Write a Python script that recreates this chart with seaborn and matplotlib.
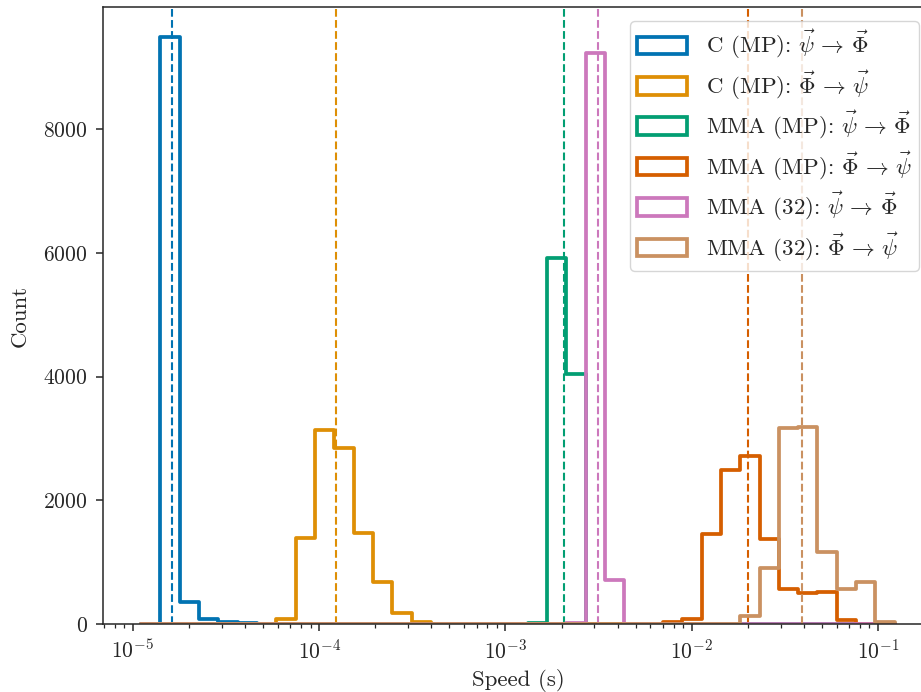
import numpy as np
import pandas as pd
import matplotlib
matplotlib.use("Agg")
import matplotlib.pyplot as plt
import matplotlib.patches as mpatches
import seaborn as sns

# ---- data ----
series_labels = [
    r"C (MP): $\vec{\psi} \,\to\, \vec{\Phi}$",
    r"C (MP): $\vec{\Phi} \,\to\, \vec{\psi}$",
    r"MMA (MP): $\vec{\psi} \,\to\, \vec{\Phi}$",
    r"MMA (MP): $\vec{\Phi} \,\to\, \vec{\psi}$",
    r"MMA (32): $\vec{\psi} \,\to\, \vec{\Phi}$",
    r"MMA (32): $\vec{\Phi} \,\to\, \vec{\psi}$",
]

# common log10 bin grid: 39 bins
log_lo = -4.957
log_binwidth = 0.10379
n_bins = 39

# counts per bin (index 0..38)
c_mp_fwd = [8, 9491, 367, 86, 38, 15] + [0] * 33
c_mp_bwd = [0] * 7 + [81, 1401, 3135, 2846, 1471, 684, 189, 43, 8] + [0] * 23
mma_mp_fwd = [0] * 20 + [15, 5915, 4040, 10] + [0] * 15
mma_mp_bwd = [0] * 26 + [10, 38, 81, 1455, 2490, 2722, 1380, 566, 501, 528, 70, 0, 0]
mma_32_fwd = [0] * 22 + [15, 9221, 710] + [0] * 14
mma_32_bwd = [0] * 31 + [130, 910, 3175, 3180, 1164, 571, 679, 38]

series_counts = [c_mp_fwd, c_mp_bwd, mma_mp_fwd, mma_mp_bwd, mma_32_fwd, mma_32_bwd]

# median speeds (dashed lines)
medians = [1.62e-5, 1.225e-4, 2.06e-3, 2.005e-2, 3.15e-3, 3.91e-2]

# ---- style ----
sns.set_style("ticks")
plt.rcParams.update({
    "font.family": "serif",
    "font.serif": ["cmr10"],
    "mathtext.fontset": "cm",
    "axes.formatter.use_mathtext": True,
    "axes.unicode_minus": False,
    "axes.linewidth": 1.1,
    "xtick.major.size": 5.2,
    "ytick.major.size": 5.2,
    "xtick.minor.size": 3.2,
    "ytick.minor.size": 3.2,
    "xtick.major.width": 1.1,
    "ytick.major.width": 1.1,
    "xtick.minor.width": 0.9,
    "ytick.minor.width": 0.9,
    "xtick.direction": "out",
    "ytick.direction": "out",
})
palette = sns.color_palette("colorblind", 6)

edges_log = [float(v) for v in (log_lo + log_binwidth * np.arange(n_bins + 1))]
centers = [10 ** (0.5 * (a + b)) for a, b in zip(edges_log[:-1], edges_log[1:])]

fig = plt.figure(figsize=(9.21, 6.92), dpi=100)
ax = fig.add_axes([103.3 / 921, 1 - 624.3 / 692, (932.5 - 103.3) / 921, (624.3 - 7.3) / 692])

handles = []
for label, counts, color, med in zip(series_labels, series_counts, palette, medians):
    df = pd.DataFrame({"speed": centers, "count": counts})
    sns.histplot(data=df, x="speed", weights="count", bins=edges_log,
                 log_scale=True, element="step", fill=False,
                 color=color, linewidth=2.7, ax=ax)
    ax.axvline(med, color=color, linestyle="--", linewidth=1.5)
    handles.append(mpatches.Patch(facecolor="white", edgecolor=color,
                                  linewidth=2.7, label=label))

ax.set_xlabel("Speed (s)", fontsize=16.5, labelpad=5)
ax.set_ylabel("Count", fontsize=16.5, labelpad=10)
ax.tick_params(axis="both", labelsize=15.5)
ax.tick_params(axis="y", pad=6)
ax.tick_params(axis="x", pad=5)
ax.legend(handles=handles, loc="upper right", fontsize=16.5,
          handlelength=2.2, handleheight=0.8, labelspacing=0.31,
          borderpad=0.3, borderaxespad=0.6)

fig.savefig("out.png", dpi=100)
